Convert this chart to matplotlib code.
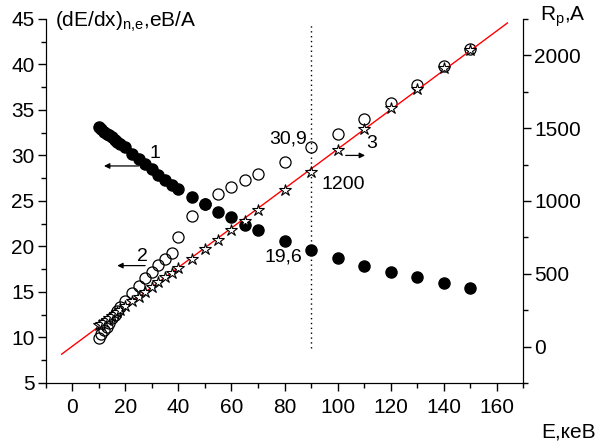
import numpy as np
import matplotlib
matplotlib.use("Agg")
import matplotlib.pyplot as plt
from matplotlib.ticker import MultipleLocator

plt.rcParams['font.family'] = ['Liberation Sans', 'DejaVu Sans']
plt.rcParams['mathtext.fontset'] = 'custom'
plt.rcParams['mathtext.rm'] = 'Liberation Sans'

# енергії (кеВ)
energy = [10, 11, 12, 13, 14, 15, 16, 17, 18, 20, 22.5, 25, 27.5, 30, 32.5, 35,
          37.5, 40, 45, 50, 55, 60, 65, 70, 80, 90, 100, 110, 120, 130, 140, 150]
# крива 1 - зафарбовані кружки
dedx_1 = [33.1, 32.9, 32.6, 32.4, 32.2, 32.0, 31.7, 31.5, 31.3, 30.9, 30.2, 29.6,
          29.1, 28.5, 27.9, 27.3, 26.8, 26.3, 25.4, 24.7, 23.8, 23.2, 22.4, 21.8,
          20.6, 19.6, 18.7, 17.9, 17.2, 16.6, 16.0, 15.4]
# крива 2 - порожні кружки
dedx_2 = [9.9, 10.4, 10.8, 11.2, 11.6, 12.1, 12.5, 12.9, 13.3, 14.0, 14.9, 15.7,
          16.5, 17.2, 18.0, 18.6, 19.3, 21.0, 23.4, 24.7, 25.8, 26.5, 27.3, 28.0,
          29.3, 30.9, 32.4, 34.0, 35.8, 37.7, 39.8, 41.7]
# крива 3 - пробіг Rp (зірочки), права вісь
rp = [145, 158, 171, 184, 197, 211, 224, 237, 250, 277, 310, 343, 376, 409, 442,
      475, 508, 541, 603, 667, 733, 802, 866, 937, 1077, 1200, 1352, 1496, 1640,
      1771, 1915, 2039]

fig = plt.figure(figsize=(5.97, 4.48), dpi=100)
ax = fig.add_axes([0.0766, 0.1451, 0.80, 0.8125])
ax2 = ax.twinx()

ax.set_xlim(-10, 170)
ax.set_ylim(5, 45)
ax2.set_ylim(-250, 2250)

# лінійна апроксимація Rp(E)
k, b = np.polyfit(energy, rp, 1)
xf = np.array([-4, 164])
ax2.plot(xf, k * xf + b, color='red', lw=1.0, zorder=1)

ax2.plot(energy, rp, ls='none', marker='*', ms=9, mfc='white', mec='black',
         mew=0.8, zorder=3)
ax.plot(energy, dedx_2, ls='none', marker='o', ms=8, mfc='none', mec='black',
        mew=0.9)
ax.plot(energy, dedx_1, ls='none', marker='o', ms=8, mfc='black', mec='black')

# вертикальна пунктирна лінія при E = 90 кеВ
ax.axvline(90, ymin=0.096, ymax=0.983, color='black', ls=(0, (1, 2.5)), lw=1)

for a in (ax, ax2):
    a.spines['top'].set_visible(False)
    a.tick_params(which='major', direction='out', length=6, width=1,
                  labelsize=15)
    a.tick_params(which='minor', direction='out', length=3.5, width=1)
ax.xaxis.set_major_locator(MultipleLocator(20))
ax.xaxis.set_minor_locator(MultipleLocator(10))
ax.yaxis.set_major_locator(MultipleLocator(5))
ax.yaxis.set_minor_locator(MultipleLocator(2.5))
ax2.set_yticks([0, 500, 1000, 1500, 2000])
ax2.yaxis.set_minor_locator(MultipleLocator(250))
ax.tick_params(axis='x', pad=5)
ax.tick_params(axis='y', pad=2)
ax2.tick_params(axis='y', pad=2)

# номери кривих зі стрілками
arr = dict(arrowstyle='-|>', color='black', lw=0.9, mutation_scale=8)
ax.annotate('', xy=(10.9, 28.85), xytext=(26, 28.85), arrowprops=arr)
ax.text(31.3, 30.2, '1', fontsize=14, ha='center', va='center')
ax.annotate('', xy=(15.9, 17.9), xytext=(28.5, 17.9), arrowprops=arr)
ax.text(26.4, 18.9, '2', fontsize=14, ha='center', va='center')
ax2.annotate('', xy=(111.4, 1313), xytext=(102, 1313), arrowprops=arr)
ax2.text(112.7, 1393, '3', fontsize=14, ha='center', va='center')

# значення при E = 90 кеВ
ax.text(88.3, 31.8, '30,9', fontsize=14, ha='right', va='center')
ax.text(86.7, 18.9, '19,6', fontsize=14, ha='right', va='center')
ax2.text(93.8, 1113, '1200', fontsize=14, ha='left', va='center')

fig.text(55 / 597, 1 - 22 / 448, '(dE/dx)$_{\\mathregular{n{,}e}}$,еВ/А',
         fontsize=15, ha='left', va='center')
fig.text(540 / 597, 1 - 17 / 448, 'R$_{\\mathregular{p}}$,A', fontsize=15,
         ha='left', va='center')
fig.text(541 / 597, 1 - 432 / 448, 'E,кеВ', fontsize=15, ha='left',
         va='center')

fig.savefig('out.png', dpi=100)
